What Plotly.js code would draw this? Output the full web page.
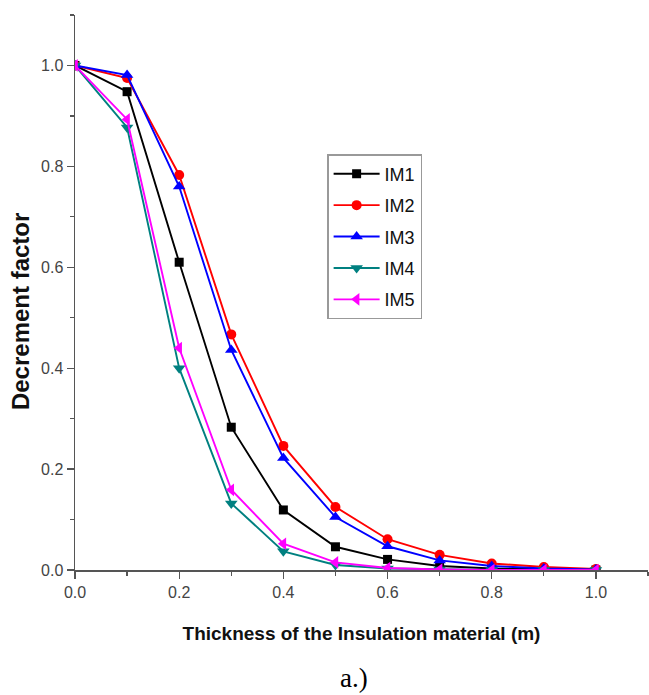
<!DOCTYPE html>
<html>
<head>
<meta charset="utf-8">
<script src="https://cdn.plot.ly/plotly-3.0.1.min.js"></script>
<style>html,body{margin:0;padding:0;background:#fff;}#chart{width:649px;height:695px;}</style>
</head>
<body>
<div id="chart"></div>
<script>
const thickness = [0.0, 0.1, 0.2, 0.3, 0.4, 0.5, 0.6, 0.7, 0.8, 0.9, 1.0];
const im1 = [1.0, 0.948, 0.61, 0.283, 0.119, 0.046, 0.021, 0.008, 0.003, 0.001, 0.0];
const im2 = [1.0, 0.975, 0.783, 0.467, 0.246, 0.125, 0.061, 0.03, 0.013, 0.006, 0.002];
const im3 = [1.0, 0.981, 0.76, 0.436, 0.222, 0.105, 0.047, 0.019, 0.008, 0.003, 0.001];
const im4 = [1.0, 0.877, 0.40, 0.132, 0.037, 0.01, 0.003, 0.001, 0.0, 0.0, 0.0];
const im5 = [1.0, 0.893, 0.44, 0.159, 0.052, 0.015, 0.004, 0.001, 0.0, 0.0, 0.0];
const seriesNames = ["IM1", "IM2", "IM3", "IM4", "IM5"];
const xTitle = "Thickness of the Insulation material (m)";
const yTitle = "Decrement factor";
const caption = "a.)";

const sans = "Liberation Sans, Arial, sans-serif";
const styles = [
  {color: "#000000", symbol: "square", size: 9},
  {color: "#ff0000", symbol: "circle", size: 10},
  {color: "#0000ff", symbol: "triangle-up", size: 11},
  {color: "#008080", symbol: "triangle-down", size: 11},
  {color: "#ff00ff", symbol: "triangle-left", size: 11}
];
const values = [im1, im2, im3, im4, im5];
const traces = values.map((v, i) => ({
  x: thickness, y: v, name: seriesNames[i], type: "scatter", mode: "lines+markers",
  legendgroup: "g" + i,
  line: {color: styles[i].color, width: 1.9},
  marker: {color: styles[i].color, symbol: styles[i].symbol, size: styles[i].size}
}));

const axisCommon = {
  range: [0, 1.1], dtick: 0.2, tick0: 0, tickformat: ".1f",
  showline: true, linecolor: "#555", linewidth: 1.5,
  ticks: "outside", ticklen: 7, tickwidth: 1.3, tickcolor: "#555",
  minor: {dtick: 0.1, ticks: "outside", ticklen: 4, tickwidth: 1.2, tickcolor: "#555"},
  showgrid: false, zeroline: false, automargin: false,
  tickfont: {family: sans, size: 16, color: "#444"}
};

const layout = {
  width: 649, height: 695,
  margin: {l: 75, r: 1, t: 15, b: 125},
  paper_bgcolor: "#fff", plot_bgcolor: "#fff",
  showlegend: true,
  xaxis: Object.assign({}, axisCommon, {
    title: {text: xTitle, standoff: 27, font: {family: sans, size: 19, color: "#111", weight: "bold"}}
  }),
  yaxis: Object.assign({}, axisCommon),
  legend: {
    x: 0.44, y: 0.7495, xanchor: "left", yanchor: "top",
    bordercolor: "#999", borderwidth: 1.5, bgcolor: "#fff",
    font: {family: sans, size: 18, color: "#111"},
    traceorder: "grouped", tracegroupgap: 5, itemwidth: 46
  },
  annotations: [
    {
      text: yTitle, xref: "paper", yref: "paper", x: -0.094, y: 0.465,
      xanchor: "center", yanchor: "middle", textangle: -90, showarrow: false,
      font: {family: sans, size: 24, color: "#111", weight: "bold"}
    },
    {
      text: caption, xref: "paper", yref: "paper", x: 0.487, y: -0.194,
      xanchor: "center", yanchor: "middle", showarrow: false,
      font: {family: "Liberation Serif, Times New Roman, serif", size: 27, color: "#000"}
    }
  ]
};

Plotly.newPlot("chart", traces, layout, {displayModeBar: false, staticPlot: true});
</script>
</body>
</html>
